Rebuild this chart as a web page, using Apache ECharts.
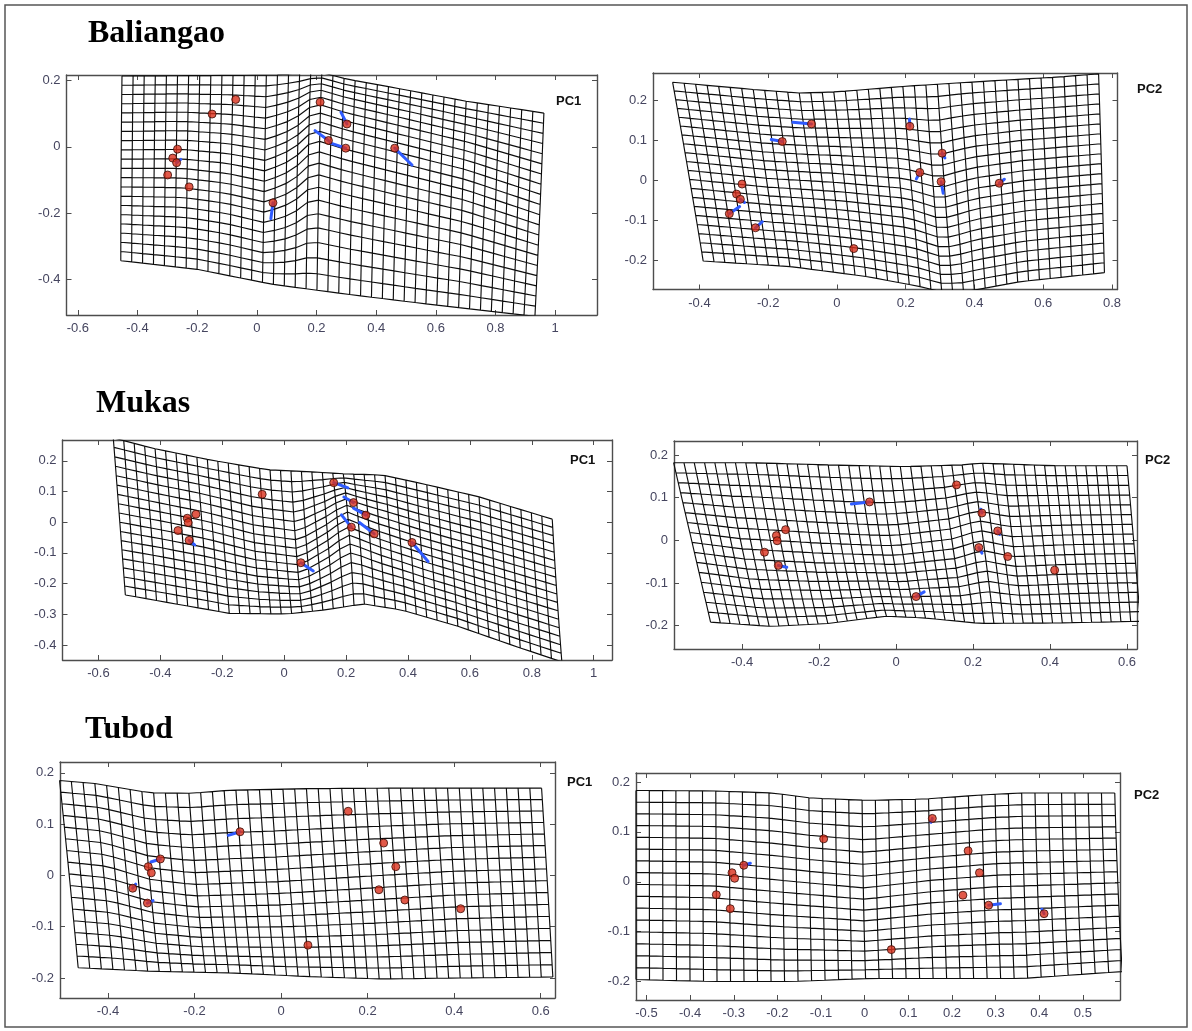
<!DOCTYPE html>
<html>
<head>
<meta charset="utf-8">
<script src="https://cdn.jsdelivr.net/npm/echarts@6/dist/echarts.min.js"></script>
<style>
    html, body { margin: 0; padding: 0; background: #fff; }
    #main { width: 1192px; height: 1031px; }
</style>
</head>
<body>
<div id="main"></div>
<script>
// ---- landmarks (red dots), shift vectors (blue) and warped grid outlines ----
// Baliangao PC1
var balPC1Points = [[-0.071, 0.143], [-0.150, 0.099], [0.212, 0.135], [0.302, 0.069], [0.240, 0.019], [0.298, -0.004], [0.462, -0.004],
    [-0.266, -0.007], [-0.282, -0.034], [-0.269, -0.048], [-0.299, -0.085], [-0.227, -0.121], [0.054, -0.169]];
var balPC1Arrows = [[0.302, 0.069, 0.282, 0.104], [0.240, 0.019, 0.195, 0.049], [0.298, -0.004, 0.245, 0.012],
    [0.462, -0.004, 0.520, -0.055], [0.054, -0.169, 0.047, -0.217], [-0.269, -0.048, -0.255, -0.038]];
var balPC1Top = [[-0.452, 0.214], [-0.2, 0.215], [0.05, 0.217], [0.15, 0.222], [0.21, 0.226], [0.3, 0.205], [0.5, 0.172], [0.7, 0.138], [0.962, 0.102]];
var balPC1Mid = [[-0.455, -0.065], [-0.25, -0.065], [-0.1, -0.08], [0.03, -0.105], [0.12, -0.07], [0.19, -0.01], [0.3, -0.04], [0.5, -0.085], [0.7, -0.13], [0.948, -0.205]];
var balPC1Bot = [[-0.456, -0.344], [-0.2, -0.37], [0.05, -0.415], [0.3, -0.445], [0.6, -0.478], [0.932, -0.512]];

// Baliangao PC2
var balPC2Points = [[-0.074, 0.141], [-0.159, 0.097], [0.212, 0.135], [0.306, 0.068], [0.241, 0.020], [0.303, -0.003], [0.472, -0.007],
    [-0.276, -0.009], [-0.292, -0.034], [-0.281, -0.047], [-0.313, -0.083], [-0.237, -0.118], [0.049, -0.170]];
var balPC2Arrows = [[-0.074, 0.141, -0.128, 0.145], [-0.159, 0.097, -0.191, 0.102], [0.212, 0.135, 0.211, 0.153], [0.306, 0.068, 0.314, 0.056],
    [0.241, 0.020, 0.231, 0.004], [0.303, -0.003, 0.309, -0.032], [0.472, -0.007, 0.487, 0.003], [-0.281, -0.047, -0.269, -0.055],
    [-0.313, -0.083, -0.283, -0.065], [-0.237, -0.118, -0.217, -0.103]];
var balPC2Top = [[-0.478, 0.245], [-0.244, 0.227], [-0.111, 0.218], [0.0, 0.221], [0.2, 0.235], [0.422, 0.247], [0.644, 0.258], [0.761, 0.266]];
var balPC2Mid = [[-0.433, 0.025], [-0.2, 0.005], [0.0, -0.005], [0.2, -0.02], [0.3, -0.045], [0.4, -0.02], [0.55, 0.0], [0.77, 0.017]];
var balPC2Bot = [[-0.389, -0.201], [-0.133, -0.215], [0.089, -0.24], [0.256, -0.267], [0.3, -0.278], [0.37, -0.278], [0.533, -0.2525], [0.778, -0.23]];

// Mukas PC1
var mukPC1Points = [[-0.071, 0.091], [0.160, 0.129], [0.224, 0.064], [0.264, 0.023], [0.217, -0.016], [0.291, -0.038], [0.413, -0.066],
    [-0.285, 0.026], [-0.313, 0.013], [-0.310, -0.001], [-0.343, -0.027], [-0.307, -0.059], [0.054, -0.132]];
var mukPC1Arrows = [[0.160, 0.129, 0.206, 0.112], [0.224, 0.064, 0.193, 0.082], [0.264, 0.023, 0.224, 0.046], [0.217, -0.016, 0.185, 0.024],
    [0.291, -0.038, 0.243, -0.001], [0.413, -0.066, 0.465, -0.128], [0.054, -0.132, 0.094, -0.159], [-0.307, -0.059, -0.289, -0.074]];
var mukPC1Top = [[-0.552, 0.275], [-0.425, 0.241], [-0.239, 0.203], [-0.054, 0.171], [0.07, 0.165], [0.193, 0.158], [0.317, 0.154], [0.44, 0.127], [0.625, 0.084], [0.866, 0.01]];
var mukPC1Mid = [[-0.532, 0.015], [-0.4, -0.01], [-0.25, -0.04], [-0.1, -0.08], [0.05, -0.1], [0.15, -0.04], [0.2, 0.0], [0.3, -0.04], [0.45, -0.09], [0.65, -0.15], [0.88, -0.22]];
var mukPC1Bot = [[-0.513, -0.237], [-0.363, -0.264], [-0.177, -0.297], [0.008, -0.299], [0.131, -0.286], [0.255, -0.266], [0.379, -0.286], [0.564, -0.34], [0.749, -0.405], [0.897, -0.455]];

// Mukas PC2
var mukPC2Points = [[-0.069, 0.090], [0.157, 0.130], [0.223, 0.064], [0.264, 0.022], [0.215, -0.017], [0.290, -0.038], [0.412, -0.070],
    [-0.287, 0.025], [-0.311, 0.011], [-0.309, -0.001], [-0.342, -0.028], [-0.306, -0.059], [0.052, -0.132]];
var mukPC2Arrows = [[-0.069, 0.090, -0.116, 0.085], [-0.306, -0.059, -0.284, -0.063], [0.052, -0.132, 0.073, -0.121],
    [0.215, -0.017, 0.223, -0.030], [0.264, 0.022, 0.269, 0.014], [0.223, 0.064, 0.220, 0.073]];
var mukPC2Top = [[-0.578, 0.182], [-0.373, 0.182], [-0.176, 0.177], [0.022, 0.173], [0.17, 0.177], [0.22, 0.181], [0.417, 0.175], [0.6, 0.175]];
var mukPC2Mid = [[-0.53, -0.005], [-0.4, -0.02], [-0.2, -0.03], [0.0, -0.035], [0.15, -0.02], [0.22, 0.0], [0.3, -0.015], [0.45, -0.01], [0.618, -0.008]];
var mukPC2Bot = [[-0.482, -0.192], [-0.324, -0.202], [-0.176, -0.195], [-0.027, -0.178], [0.071, -0.182], [0.22, -0.195], [0.417, -0.194], [0.635, -0.19]];

// Tubod PC1
var tubPC1Points = [[-0.095, 0.085], [0.155, 0.125], [0.237, 0.063], [0.265, 0.017], [0.226, -0.028], [0.286, -0.048], [0.415, -0.065],
    [-0.279, 0.032], [-0.307, 0.017], [-0.300, 0.005], [-0.343, -0.025], [-0.309, -0.054], [0.062, -0.136]];
var tubPC1Arrows = [[-0.095, 0.085, -0.122, 0.078], [-0.279, 0.032, -0.301, 0.026], [-0.343, -0.025, -0.336, -0.017], [-0.309, -0.054, -0.296, -0.049]];
var tubPC1Top = [[-0.512, 0.185], [-0.429, 0.179], [-0.305, 0.161], [-0.208, 0.16], [-0.119, 0.166], [0.058, 0.169], [0.235, 0.17], [0.602, 0.17]];
var tubPC1Mid = [[-0.49, 0.003], [-0.4, -0.005], [-0.3, -0.03], [-0.2, -0.04], [0.0, -0.035], [0.2, -0.025], [0.4, -0.015], [0.615, -0.01]];
var tubPC1Bot = [[-0.469, -0.18], [-0.296, -0.187], [-0.119, -0.19], [0.058, -0.197], [0.235, -0.202], [0.412, -0.2], [0.628, -0.198]];

// Tubod PC2
var tubPC2Points = [[-0.094, 0.086], [0.155, 0.127], [0.237, 0.062], [0.263, 0.018], [0.225, -0.027], [0.284, -0.047], [0.411, -0.064],
    [-0.277, 0.033], [-0.304, 0.018], [-0.298, 0.007], [-0.340, -0.026], [-0.308, -0.054], [0.061, -0.136]];
var tubPC2Arrows = [[-0.277, 0.033, -0.262, 0.037], [0.284, -0.047, 0.311, -0.044], [0.155, 0.127, 0.152, 0.119], [0.411, -0.064, 0.406, -0.055]];
var tubPC2Top = [[-0.524, 0.183], [-0.344, 0.182], [-0.212, 0.178], [-0.125, 0.168], [0.007, 0.163], [0.139, 0.166], [0.27, 0.174], [0.358, 0.178], [0.573, 0.178]];
var tubPC2Mid = [[-0.524, -0.005], [-0.35, -0.008], [-0.2, -0.02], [0.0, -0.035], [0.15, -0.02], [0.3, -0.01], [0.58, -0.002]];
var tubPC2Bot = [[-0.524, -0.196], [-0.344, -0.2], [-0.168, -0.2], [0.007, -0.194], [0.182, -0.194], [0.358, -0.194], [0.59, -0.18]];

// tick values
var ticksX1 = [-0.6, -0.4, -0.2, 0, 0.2, 0.4, 0.6, 0.8, 1];
var ticksY1 = [-0.4, -0.2, 0, 0.2];
var ticksX2 = [-0.4, -0.2, 0, 0.2, 0.4, 0.6, 0.8];
var ticksYp1 = [-0.2, -0.1, 0, 0.1, 0.2];
var ticksY3 = [-0.4, -0.3, -0.2, -0.1, 0, 0.1, 0.2];
var ticksX4 = [-0.4, -0.2, 0, 0.2, 0.4, 0.6];
var ticksX6 = [-0.5, -0.4, -0.3, -0.2, -0.1, 0, 0.1, 0.2, 0.3, 0.4, 0.5];

var siteNames = ['Baliangao', 'Mukas', 'Tubod'];

// ---- panel layout ----
var panels = [
    {left: 66.5, top: 75, width: 530.5, height: 240, xMin: -0.638, xMax: 1.14, yMin: -0.508, yMax: 0.217,
        xTicks: ticksX1, yTicks: ticksY1, nx: 38, ny: 20, pc: 'PC1', pcX: 556, pcY: 101,
        pts: balPC1Points, arrows: balPC1Arrows, top_: balPC1Top, mid: balPC1Mid, bot: balPC1Bot},
    {left: 653, top: 73, width: 464.5, height: 216.5, xMin: -0.535, xMax: 0.816, yMin: -0.272, yMax: 0.268,
        xTicks: ticksX2, yTicks: ticksYp1, nx: 37, ny: 20, pc: 'PC2', pcX: 1137, pcY: 89,
        pts: balPC2Points, arrows: balPC2Arrows, top_: balPC2Top, mid: balPC2Mid, bot: balPC2Bot},
    {left: 62.5, top: 440, width: 549.5, height: 220, xMin: -0.716, xMax: 1.059, yMin: -0.449, yMax: 0.268,
        xTicks: ticksX1, yTicks: ticksY3, nx: 42, ny: 17, pc: 'PC1', pcX: 570, pcY: 460,
        pts: mukPC1Points, arrows: mukPC1Arrows, top_: mukPC1Top, mid: mukPC1Mid, bot: mukPC1Bot},
    {left: 674, top: 441, width: 463, height: 208, xMin: -0.577, xMax: 0.626, yMin: -0.255, yMax: 0.233,
        xTicks: ticksX4, yTicks: ticksYp1, nx: 44, ny: 16, pc: 'PC2', pcX: 1145, pcY: 460,
        pts: mukPC2Points, arrows: mukPC2Arrows, top_: mukPC2Top, mid: mukPC2Mid, bot: mukPC2Bot},
    {left: 60, top: 762, width: 495, height: 236, xMin: -0.511, xMax: 0.633, yMin: -0.239, yMax: 0.221,
        xTicks: ticksX4, yTicks: ticksYp1, nx: 41, ny: 16, pc: 'PC1', pcX: 567, pcY: 782,
        pts: tubPC1Points, arrows: tubPC1Arrows, top_: tubPC1Top, mid: tubPC1Mid, bot: tubPC1Bot},
    {left: 636, top: 773, width: 484, height: 227, xMin: -0.524, xMax: 0.585, yMin: -0.237, yMax: 0.218,
        xTicks: ticksX6, yTicks: ticksYp1, nx: 36, ny: 16, pc: 'PC2', pcX: 1134, pcY: 795,
        pts: tubPC2Points, arrows: tubPC2Arrows, top_: tubPC2Top, mid: tubPC2Mid, bot: tubPC2Bot}
];

var titlePos = [[88, 18], [96, 388], [85, 714]];

// ---- warped grid construction ----
function interpY(poly, x) {
    var n = poly.length;
    if (x <= poly[0][0]) return poly[0][1];
    for (var i = 1; i < n; i++) {
        if (x <= poly[i][0]) {
            var t = (x - poly[i - 1][0]) / (poly[i][0] - poly[i - 1][0]);
            return poly[i - 1][1] + t * (poly[i][1] - poly[i - 1][1]);
        }
    }
    return poly[n - 1][1];
}

function guidePoint(poly, u) {
    var x0 = poly[0][0], x1 = poly[poly.length - 1][0];
    var x = x0 + (x1 - x0) * u;
    return [x, interpY(poly, x)];
}

// quadratic through top (v=0), mid (v=.5), bottom (v=1)
function node(p, u, v) {
    var t = guidePoint(p.top_, u), m = guidePoint(p.mid, u), b = guidePoint(p.bot, u);
    var cx = 2 * m[0] - (t[0] + b[0]) / 2, cy = 2 * m[1] - (t[1] + b[1]) / 2;
    var w0 = (1 - v) * (1 - v), w1 = 2 * v * (1 - v), w2 = v * v;
    return [w0 * t[0] + w1 * cx + w2 * b[0], w0 * t[1] + w1 * cy + w2 * b[1]];
}

function buildMesh(p) {
    var out = [], i, j;
    for (j = 0; j <= p.ny; j++) {
        for (i = 0; i <= p.nx; i++) out.push(node(p, i / p.nx, j / p.ny));
        out.push(['-', '-']);
    }
    for (i = 0; i <= p.nx; i++) {
        for (j = 0; j <= p.ny; j++) out.push(node(p, i / p.nx, j / p.ny));
        out.push(['-', '-']);
    }
    return out;
}

function buildArrows(list) {
    var out = [];
    list.forEach(function (a) {
        out.push([a[0], a[1]], [a[2], a[3]], ['-', '-']);
    });
    return out;
}

function fmt(v) {
    return String(Math.round(v * 10) / 10);
}

var boxColor = '#4d4d4d';
var labelColor = '#45455f';

var grids = [], xAxes = [], yAxes = [], series = [], graphics = [];

panels.forEach(function (p, k) {
    grids.push({left: p.left, top: p.top, width: p.width, height: p.height, containLabel: false});
    ['bottom', 'top'].forEach(function (pos) {
        xAxes.push({
            type: 'value', gridIndex: k, position: pos, min: p.xMin, max: p.xMax,
            axisLine: {show: true, onZero: false, lineStyle: {color: boxColor, width: 1.4}},
            axisTick: {show: true, inside: true, length: 5, customValues: p.xTicks, lineStyle: {color: boxColor}},
            axisLabel: {show: pos === 'bottom', customValues: p.xTicks, formatter: fmt, color: labelColor,
                fontSize: 13, fontFamily: 'Liberation Sans', margin: 7},
            splitLine: {show: false}
        });
    });
    ['left', 'right'].forEach(function (pos) {
        yAxes.push({
            type: 'value', gridIndex: k, position: pos, min: p.yMin, max: p.yMax,
            axisLine: {show: true, onZero: false, lineStyle: {color: boxColor, width: 1.4}},
            axisTick: {show: true, inside: true, length: 5, customValues: p.yTicks, lineStyle: {color: boxColor}},
            axisLabel: {show: pos === 'left', customValues: p.yTicks, formatter: fmt, color: labelColor,
                fontSize: 13, fontFamily: 'Liberation Sans', margin: 6},
            splitLine: {show: false}
        });
    });

    series.push({
        type: 'line', xAxisIndex: 2 * k, yAxisIndex: 2 * k, data: buildMesh(p),
        symbol: 'none', showSymbol: false, connectNulls: false, clip: true, silent: true, z: 1,
        lineStyle: {color: '#0d0d0d', width: 1.15}
    });
    series.push({
        type: 'line', xAxisIndex: 2 * k, yAxisIndex: 2 * k, data: buildArrows(p.arrows),
        symbol: 'none', showSymbol: false, connectNulls: false, clip: true, silent: true, z: 2,
        lineStyle: {color: '#2f5bff', width: 3, cap: 'round'}
    });
    series.push({
        type: 'scatter', xAxisIndex: 2 * k, yAxisIndex: 2 * k, data: p.pts,
        symbol: 'circle', symbolSize: 8, silent: true, z: 3,
        itemStyle: {color: '#d9301c', borderColor: '#3a0c06', borderWidth: 1}
    });

    graphics.push({
        type: 'text', x: p.pcX, y: p.pcY,
        style: {text: p.pc, font: 'bold 13px "Liberation Sans"', fill: '#111', textVerticalAlign: 'middle'}
    });
});

siteNames.forEach(function (name, i) {
    graphics.push({
        type: 'text', left: titlePos[i][0], top: titlePos[i][1],
        style: {text: name, font: 'bold 32px "Liberation Serif"', fill: '#000'}
    });
});

graphics.push({
    type: 'rect', shape: {x: 5, y: 5, width: 1182, height: 1022},
    style: {fill: 'none', stroke: '#555', lineWidth: 1.5}, z: -1
});

var chart = echarts.init(document.getElementById('main'));
chart.setOption({
    animation: false,
    backgroundColor: '#fff',
    grid: grids,
    xAxis: xAxes,
    yAxis: yAxes,
    series: series,
    graphic: graphics
});
</script>
</body>
</html>
